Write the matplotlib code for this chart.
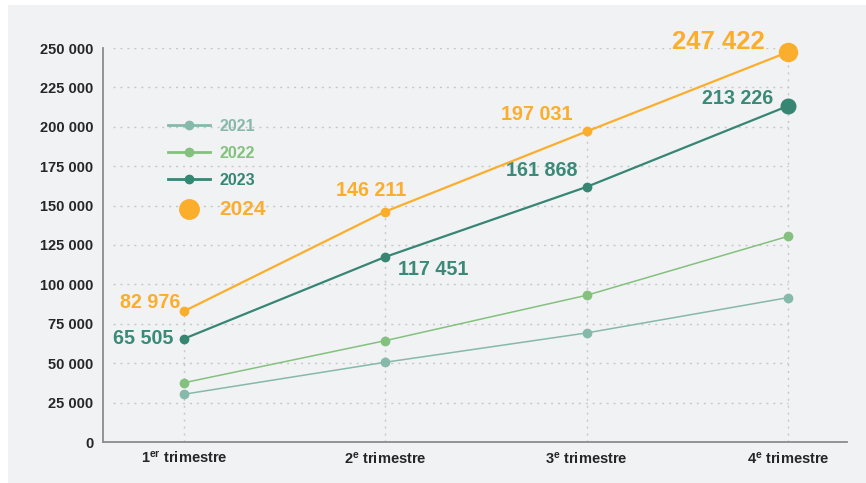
import matplotlib.pyplot as plt
from matplotlib.lines import Line2D
from matplotlib.patches import Rectangle

plt.rcParams['font.family'] = ['Liberation Sans', 'DejaVu Sans']
plt.rcParams['mathtext.fontset'] = 'custom'
plt.rcParams['mathtext.rm'] = 'Liberation Sans:bold'
plt.rcParams['mathtext.it'] = 'Liberation Sans:bold'
plt.rcParams['mathtext.bf'] = 'Liberation Sans:bold'

# Data
quarters = [r"1$^{\mathrm{er}}$ trimestre", r"2$^{\mathrm{e}}$ trimestre",
            r"3$^{\mathrm{e}}$ trimestre", r"4$^{\mathrm{e}}$ trimestre"]
years = ["2021", "2022", "2023", "2024"]
v2021 = [30300, 50600, 69200, 91600]
v2022 = [37600, 64300, 93100, 130500]
v2023 = [65505, 117451, 161868, 213226]
v2024 = [82976, 146211, 197031, 247422]
yticks = [0, 25000, 50000, 75000, 100000, 125000, 150000, 175000, 200000,
          225000, 250000]

# Styles
c2021 = '#86b9aa'
c2022 = '#84c17e'
c2023 = '#368673'
c2024 = '#fbae2c'
bg = '#f1f2f4'
grid_c = '#c6c8cb'
txt_c = '#262626'


def fmt(v):
    return f"{v:,.0f}".replace(",", " ")


fig = plt.figure(figsize=(8.66, 4.83), dpi=100)
fig.patch.set_facecolor('white')
fig.add_artist(Rectangle((8 / 866, 0), 1, 1 - 5 / 483, transform=fig.transFigure,
                         facecolor=bg, edgecolor='none', zorder=0))
ax = fig.add_axes([103 / 866, 41 / 483, 744 / 866, 394 / 483])
ax.set_facecolor('none')

x = list(range(len(quarters)))

# Grid
ax.hlines(yticks[1:], -0.353, 3.0, colors=grid_c, linewidth=1,
          linestyles=(0, (1.5, 3.5)), zorder=1)
ax.vlines(x, 0, v2024, colors=grid_c, linewidth=1,
          linestyles=(0, (1.5, 3.5)), zorder=1)

# Series
ax.plot(x, v2021, color=c2021, linewidth=1.1, marker='o', markersize=6, zorder=3)
ax.plot(x, v2022, color=c2022, linewidth=1.1, marker='o', markersize=6, zorder=3)
ax.plot(x, v2023, color=c2023, linewidth=1.6, marker='o', markersize=6, zorder=4)
ax.plot(x, v2024, color=c2024, linewidth=1.6, marker='o', markersize=6, zorder=4)
ax.plot(x[-1], v2023[-1], 'o', color=c2023, markersize=10.5, zorder=5, clip_on=False)
ax.plot(x[-1], v2024[-1], 'o', color=c2024, markersize=13, zorder=5, clip_on=False)

# Value labels (offsets in pixels)
off2024 = [(-4, 9, 'right'), (21, 21, 'right'), (-14, 17, 'right'), (-23, 10, 'right')]
off2023 = [(-11, 0, 'right'), (13, -13, 'left'), (-9, 16, 'right'), (-15, 7, 'right')]
for i, v in enumerate(v2024):
    size = 18.5 if i == 3 else 14.2
    ax.annotate(fmt(v), (x[i], v), xytext=off2024[i][:2], textcoords='offset pixels',
                ha=off2024[i][2], va='center', color=c2024, fontsize=size,
                fontweight='bold', annotation_clip=False)
for i, v in enumerate(v2023):
    ax.annotate(fmt(v), (x[i], v), xytext=off2023[i][:2], textcoords='offset pixels',
                ha=off2023[i][2], va='center', color='#3a8a77', fontsize=14.2,
                fontweight='bold', annotation_clip=False)

# Axes
ax.set_xlim(-0.402, 3.293)
ax.set_ylim(0, 250000)
ax.set_xticks(x)
ax.set_xticklabels(quarters, fontsize=10.5, fontweight='bold', color=txt_c)
ax.set_yticks(yticks)
ax.set_yticklabels([fmt(v) for v in yticks], fontsize=10.5, fontweight='bold',
                   color=txt_c)
ax.tick_params(length=0)
ax.tick_params(axis='y', pad=7)
ax.tick_params(axis='x', pad=6)
for s in ['top', 'right']:
    ax.spines[s].set_visible(False)
for s in ['left', 'bottom']:
    ax.spines[s].set_color('#8c8c8c')
    ax.spines[s].set_linewidth(1.3)

# Legend
handles = [
    Line2D([], [], color=c2021, linewidth=2, marker='o', markersize=6),
    Line2D([], [], color=c2022, linewidth=2, marker='o', markersize=6),
    Line2D([], [], color=c2023, linewidth=2, marker='o', markersize=6),
    Line2D([], [], color=c2024, linestyle='none', marker='o', markersize=14),
]
leg = ax.legend(handles, years, loc='upper left', frameon=False,
                bbox_to_anchor=(168 / 866, 1 - 119 / 483),
                bbox_transform=fig.transFigure, borderpad=0, borderaxespad=0,
                prop={'weight': 'bold', 'size': 11.5},
                handlelength=2.6, handletextpad=0.6, labelspacing=0.75)
for t, c in zip(leg.get_texts(), [c2021, c2022, c2023, c2024]):
    t.set_color(c)
leg.get_texts()[-1].set_fontsize(15)

fig.savefig('out.png', dpi=100)
